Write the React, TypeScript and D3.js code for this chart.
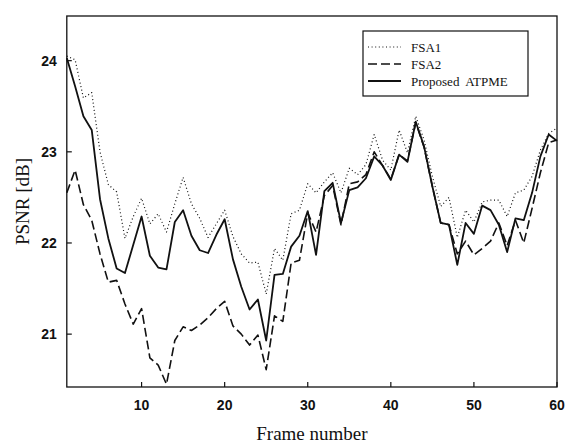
import React, { useEffect, useRef } from 'react';
import * as d3 from 'd3';

// frame numbers 1..60
const frames: number[] = d3.range(1, 61);

// PSNR values
const fsa1: number[] = [
    24.05, 24.01, 23.59, 23.65, 23.0, 22.64, 22.56, 22.05, 22.29, 22.49,
    22.21, 22.32, 22.12, 22.43, 22.72, 22.43, 22.27, 22.06, 22.21, 22.36,
    22.07, 21.88, 21.78, 21.79, 21.44, 21.94, 21.81, 22.32, 22.36, 22.65,
    22.55, 22.67, 22.77, 22.55, 22.82, 22.75, 22.86, 23.19, 22.91, 22.8,
    23.24, 22.99, 23.39, 23.13, 22.73, 22.4, 22.5, 22.06, 22.36, 22.23,
    22.45, 22.47, 22.47, 22.29, 22.55, 22.58, 22.73, 23.02, 23.2, 23.26
];
const fsa2: number[] = [
    22.55, 22.8, 22.42, 22.25, 21.88, 21.57, 21.59, 21.33, 21.11, 21.28,
    20.74, 20.66, 20.45, 20.93, 21.08, 21.04, 21.1, 21.18, 21.28, 21.36,
    21.09, 21.0, 20.88, 20.99, 20.61, 21.2, 21.14, 21.78, 21.81, 22.33,
    22.12, 22.52, 22.63, 22.2, 22.65, 22.67, 22.75, 23.0, 22.85, 22.7,
    22.97, 22.9, 23.32, 23.05, 22.62, 22.22, 22.2, 21.88, 22.02, 21.87,
    21.94, 22.02, 22.22, 21.97, 22.25, 22.0, 22.38, 22.77, 23.1, 23.13
];
const proposed: number[] = [
    24.03, 23.72, 23.39, 23.24, 22.48, 22.05, 21.72, 21.67, 21.98, 22.29,
    21.86, 21.73, 21.71, 22.23, 22.36, 22.08, 21.92, 21.89, 22.09, 22.26,
    21.82, 21.52, 21.27, 21.38, 20.93, 21.65, 21.66, 21.96, 22.08, 22.35,
    21.87, 22.57, 22.66, 22.22, 22.58, 22.61, 22.71, 22.95, 22.85, 22.69,
    22.97, 22.89, 23.33, 23.06, 22.62, 22.22, 22.2, 21.76, 22.22, 22.1,
    22.41, 22.36, 22.2, 21.9, 22.27, 22.25, 22.55, 22.95, 23.19, 23.12
];

const seriesNames = ['FSA1', 'FSA2', 'Proposed  ATPME'];
const xTicks = [10, 20, 30, 40, 50, 60];
const yTicks = [21, 22, 23, 24];

const ink = '#111';
const serif = '"Liberation Serif", "DejaVu Serif", serif';
const sans = '"Liberation Sans", Arial, sans-serif';

export default function App() {
    const ref = useRef<SVGSVGElement>(null);

    useEffect(() => {
        const svg = d3.select(ref.current);
        svg.selectAll('*').remove();

        const left = 66.8, right = 557, top = 16, bottom = 387;

        const x = d3.scaleLinear().domain([1, 60]).range([left, right]);
        const y = d3.scaleLinear().domain([20.42, 24.49]).range([bottom, top]);

        const styles = [
            { data: fsa1, dash: '1,2.6', width: 1.2 },
            { data: fsa2, dash: '9,4', width: 1.6 },
            { data: proposed, dash: null, width: 1.8 }
        ];

        const line = d3.line<number>()
            .x((d, i) => x(frames[i]))
            .y(d => y(d));

        // lines
        styles.forEach(s => {
            svg.append('path')
                .datum(s.data)
                .attr('fill', 'none')
                .attr('stroke', ink)
                .attr('stroke-width', s.width)
                .attr('stroke-dasharray', s.dash)
                .attr('stroke-linejoin', 'round')
                .attr('d', line);
        });

        // frame
        svg.append('rect')
            .attr('x', left).attr('y', top)
            .attr('width', right - left).attr('height', bottom - top)
            .attr('fill', 'none').attr('stroke', ink).attr('stroke-width', 1.3);

        // y axis: inward ticks + labels
        const yAxis = svg.append('g');
        yTicks.forEach(t => {
            yAxis.append('line')
                .attr('x1', left).attr('x2', left + 5)
                .attr('y1', y(t)).attr('y2', y(t))
                .attr('stroke', ink).attr('stroke-width', 1.2);
            yAxis.append('text')
                .attr('x', left - 10).attr('y', y(t) + 5)
                .attr('text-anchor', 'end')
                .attr('font-family', sans).attr('font-size', 14).attr('font-weight', 'bold')
                .attr('fill', ink)
                .text(t);
        });

        // x axis
        const xAxis = svg.append('g');
        xTicks.forEach(t => {
            xAxis.append('line')
                .attr('x1', x(t)).attr('x2', x(t))
                .attr('y1', bottom).attr('y2', bottom - 5)
                .attr('stroke', ink).attr('stroke-width', 1.2);
            xAxis.append('text')
                .attr('x', x(t)).attr('y', bottom + 23)
                .attr('text-anchor', 'middle')
                .attr('font-family', sans).attr('font-size', 14).attr('font-weight', 'bold')
                .attr('fill', ink)
                .text(t);
        });

        // axis titles
        svg.append('text')
            .attr('x', (left + right) / 2).attr('y', 440)
            .attr('text-anchor', 'middle')
            .attr('font-family', serif).attr('font-size', 19).attr('fill', ink)
            .text('Frame number');
        svg.append('text')
            .attr('transform', `translate(29,${(top + bottom) / 2}) rotate(-90)`)
            .attr('text-anchor', 'middle')
            .attr('font-family', serif).attr('font-size', 19).attr('fill', ink)
            .text('PSNR [dB]');

        // legend
        const lg = svg.append('g').attr('transform', 'translate(363,31)');
        lg.append('rect')
            .attr('width', 165).attr('height', 65)
            .attr('fill', '#fff').attr('stroke', ink).attr('stroke-width', 1.2);
        styles.forEach((s, i) => {
            const ly = 16 + i * 17;
            lg.append('line')
                .attr('x1', 5).attr('x2', 38)
                .attr('y1', ly).attr('y2', ly)
                .attr('stroke', ink).attr('stroke-width', s.width)
                .attr('stroke-dasharray', s.dash);
            lg.append('text')
                .attr('x', 48).attr('y', ly + 4.5)
                .attr('font-family', serif).attr('font-size', 13).attr('fill', ink)
                .attr('xml:space', 'preserve')
                .style('white-space', 'pre')
                .text(seriesNames[i]);
        });
    }, []);

    return (
        <svg ref={ref} width={565} height={445}
            style={{ position: 'absolute', left: 0, top: 0, background: '#fff' }} />
    );
}
